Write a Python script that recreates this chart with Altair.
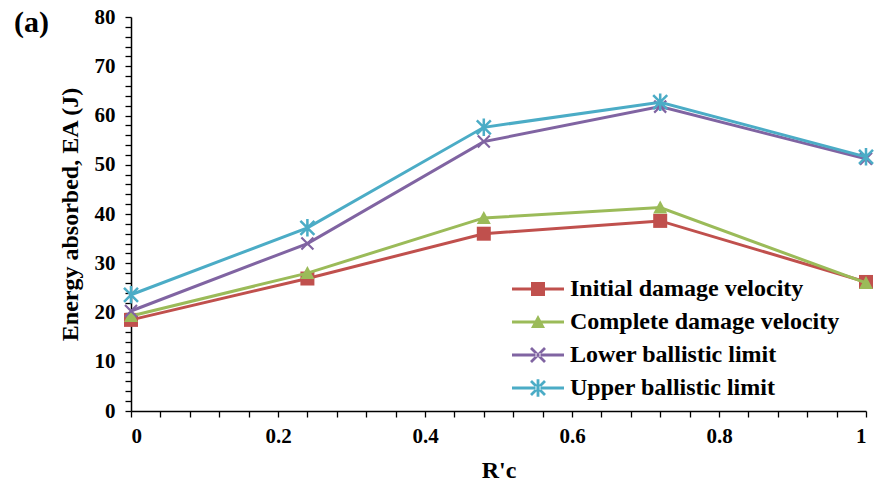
import altair as alt
import pandas as pd

# Ratio R'c at which each panel was tested
rc = [0, 0.24, 0.48, 0.72, 1.0]

# Energy absorbed (J) for each velocity criterion
initial_damage = [18.5, 26.9, 36.0, 38.6, 26.2]
complete_damage = [19.3, 28.0, 39.2, 41.3, 26.0]
lower_ballistic = [20.3, 34.0, 54.7, 61.8, 51.2]
upper_ballistic = [23.6, 37.2, 57.6, 62.7, 51.6]

series_names = [
    "Initial damage velocity",
    "Complete damage velocity",
    "Lower ballistic limit",
    "Upper ballistic limit",
]
series_values = [initial_damage, complete_damage, lower_ballistic, upper_ballistic]
colors = ["#C0504D", "#9BBB59", "#8064A2", "#4BACC6"]

rows = []
for name, vals in zip(series_names, series_values):
    for xv, yv in zip(rc, vals):
        rows.append({"series": name, "rc": xv, "ea": yv})
df = pd.DataFrame(rows)

FONT = "Liberation Serif"


# ---- marker outlines as filled SVG paths (unit square -1..1) ----
def bar(x1, y1, x2, y2, w):
    dx, dy = x2 - x1, y2 - y1
    ln = (dx * dx + dy * dy) ** 0.5
    nx, ny = -dy / ln * w, dx / ln * w
    pts = [(x1 + nx, y1 + ny), (x2 + nx, y2 + ny), (x2 - nx, y2 - ny), (x1 - nx, y1 - ny)]
    return "M" + "L".join(f"{a:.3f},{b:.3f}" for a, b in pts) + "Z"


def marker_path(kind, s=1.0, cx=0.0, w=0.18):
    if kind == "square":
        return f"M{cx - s:.3f},{-s:.3f}H{cx + s:.3f}V{s:.3f}H{cx - s:.3f}Z"
    if kind == "triangle":
        return f"M{cx:.3f},{-s:.3f}L{cx + s:.3f},{0.85 * s:.3f}L{cx - s:.3f},{0.85 * s:.3f}Z"
    if kind == "x":
        return bar(cx - s, -s, cx + s, s, w * s) + bar(cx - s, s, cx + s, -s, w * s)
    # asterisk
    return (bar(cx - s, -s, cx + s, s, w * s) + bar(cx - s, s, cx + s, -s, w * s)
            + bar(cx, -1.25 * s, cx, 1.25 * s, w * s))


kinds = ["square", "triangle", "x", "star"]
marker_sizes = [196, 196, 144, 196]

# legend swatch: a line segment with the marker in its middle (symbol size 400 -> 10 px per unit)
legend_paths = []
for k in kinds:
    line = "M-4.2,-0.15H1.0V0.15H-4.2Z"
    legend_paths.append(line + marker_path(k, s=0.7, cx=-1.6, w=0.2))

x_ticks = [round(i * 0.04, 2) for i in range(26)]
y_ticks = list(range(0, 81, 2))

x_scale = alt.Scale(domain=[0, 1], nice=False, zero=False)
y_scale = alt.Scale(domain=[0, 80], nice=False)

x_axis = alt.Axis(
    values=x_ticks,
    labelExpr="abs(round(datum.value * 5) - datum.value * 5) < 1e-6 ? format(datum.value, '~g') : ''",
    grid=False, domainColor="black", domainWidth=1.5, tickColor="black", tickWidth=1.3,
    tickSize=6, labelPadding=8, labelFont=FONT, labelFontSize=21, labelFontWeight="bold",
    labelColor="black", title="R'c", titleFont=FONT, titleFontSize=24, titleFontWeight="bold",
    titleColor="black", titlePadding=12, labelOverlap=False,
)
y_axis = alt.Axis(
    values=y_ticks,
    labelExpr="datum.value % 10 == 0 ? datum.label : ''",
    grid=False, domainColor="black", domainWidth=1.5, tickColor="black", tickWidth=1.3,
    tickSize=6, labelPadding=10, labelFont=FONT, labelFontSize=21, labelFontWeight="bold",
    labelColor="black", title="Energy absorbed, EA (J)", titleFont=FONT, titleFontSize=24,
    titleFontWeight="bold", titleColor="black", titlePadding=12, labelOverlap=False,
)

enc = dict(
    x=alt.X("rc:Q", scale=x_scale, axis=x_axis),
    y=alt.Y("ea:Q", scale=y_scale, axis=y_axis),
)

base = alt.Chart(df)
layers = []
for i, (name, col) in enumerate(zip(series_names, colors)):
    sub = base.transform_filter(alt.datum.series == name)
    layers.append(sub.mark_line(color=col, strokeWidth=3).encode(**enc))
    layers.append(
        sub.mark_point(
            shape=marker_path(kinds[i]), filled=True, color=col, opacity=1,
            size=marker_sizes[i], strokeWidth=0,
        ).encode(**enc)
    )

# legend only: no rows reach the marks, the scale domains carry the entries
legend_layer = base.transform_filter("false").mark_point(filled=True, size=400, opacity=1).encode(
    color=alt.Color(
        "series:N", sort=series_names,
        scale=alt.Scale(domain=series_names, range=colors),
        legend=alt.Legend(
            title=None, orient="none", legendX=411, legendY=260, symbolOpacity=1,
            symbolSize=400, symbolStrokeWidth=0, labelFont=FONT, labelFontSize=24,
            labelFontWeight="bold", labelColor="black", labelOffset=4, rowPadding=9,
            labelLimit=400,
        ),
    ),
    shape=alt.Shape(
        "series:N", sort=series_names,
        scale=alt.Scale(domain=series_names, range=legend_paths),
    ),
    **enc,
)

panel_label = alt.Chart(pd.DataFrame({"t": ["(a)"]})).mark_text(
    font=FONT, fontSize=30, fontWeight="bold", color="black", align="left", baseline="alphabetic",
).encode(x=alt.value(-117), y=alt.value(15), text="t:N")

chart = alt.layer(*layers, legend_layer, panel_label).properties(
    width=735, height=394,
    padding={"left": 131, "top": 17, "right": 22, "bottom": 78},
    autosize=alt.AutoSizeParams(type="none"),
).configure(background="white").configure_view(stroke=None)

chart.save("out.html", embed_options={"renderer": "svg", "actions": False})
